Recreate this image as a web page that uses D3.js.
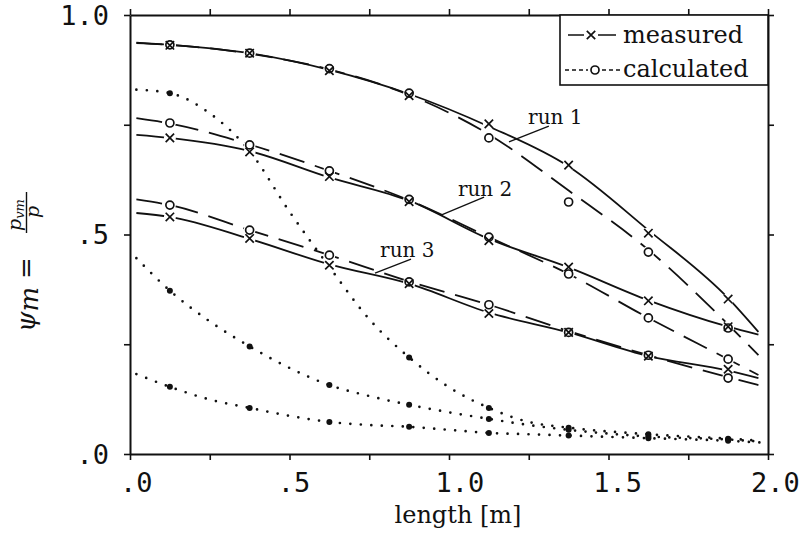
<!DOCTYPE html>
<html>
<head>
<meta charset="utf-8">
<script src="https://cdn.jsdelivr.net/npm/d3@7"></script>
<style>
  body { margin: 0; background: #fff; }
  svg { display: block; }
  .tick-label { font-family: "DejaVu Sans Mono", monospace; font-size: 27px; fill: #111; }
  .serif { font-family: "DejaVu Serif", serif; fill: #111; }
</style>
</head>
<body>
<svg id="chart" width="812" height="540"></svg>
<script>
// positions along the pipe where values were taken
const markerX = [0.125, 0.375, 0.625, 0.875, 1.125, 1.375, 1.625, 1.875];
// x samples for the fitted curves (start .. end of each drawn curve)
const curveX = [0.02, 0.125, 0.375, 0.625, 0.875, 1.125, 1.375, 1.625, 1.875, 1.97];
// x samples for the dotted curves
const dotX = [0.02, 0.125, 0.25, 0.375, 0.5, 0.625, 0.75, 0.875, 1.0, 1.125, 1.25, 1.375, 1.625, 1.875, 1.98];

const run1Meas = [0.931, 0.913, 0.873, 0.816, 0.752, 0.658, 0.503, 0.353];
const run1Calc = [0.932, 0.913, 0.878, 0.822, 0.72, 0.574, 0.46, 0.287];
const run2Meas = [0.72, 0.688, 0.632, 0.575, 0.486, 0.426, 0.349, 0.29];
const run2Calc = [0.754, 0.704, 0.645, 0.58, 0.494, 0.41, 0.31, 0.216];
const run3Meas = [0.54, 0.491, 0.43, 0.388, 0.32, 0.277, 0.223, 0.193];
const run3Calc = [0.567, 0.51, 0.453, 0.392, 0.34, 0.277, 0.225, 0.173];

const run1MeasCurve = [0.937, 0.932, 0.913, 0.875, 0.82, 0.746, 0.655, 0.51, 0.355, 0.278];
const run1CalcCurve = [0.936, 0.932, 0.912, 0.876, 0.818, 0.728, 0.6, 0.465, 0.295, 0.225];
const run2MeasCurve = [0.727, 0.72, 0.69, 0.63, 0.577, 0.49, 0.425, 0.35, 0.29, 0.272];
const run2CalcCurve = [0.765, 0.753, 0.705, 0.645, 0.578, 0.494, 0.41, 0.31, 0.216, 0.18];
const run3MeasCurve = [0.549, 0.54, 0.49, 0.432, 0.388, 0.322, 0.277, 0.223, 0.19, 0.173];
const run3CalcCurve = [0.58, 0.567, 0.51, 0.453, 0.393, 0.34, 0.28, 0.225, 0.175, 0.157];

const dotted1 = [0.83, 0.822, 0.776, 0.69, 0.552, 0.426, 0.307, 0.22, 0.152, 0.105, 0.073, 0.06, 0.045, 0.035, 0.03];
const dotted2 = [0.446, 0.372, 0.302, 0.245, 0.196, 0.157, 0.132, 0.112, 0.095, 0.08, 0.066, 0.055, 0.04, 0.033, 0.028];
const dotted3 = [0.182, 0.153, 0.124, 0.105, 0.087, 0.073, 0.066, 0.062, 0.055, 0.048, 0.045, 0.042, 0.036, 0.03, 0.026];

const xTicks = [0, 0.25, 0.5, 0.75, 1, 1.25, 1.5, 1.75, 2];
const xLabels = [0, 0.5, 1, 1.5, 2];
const yTicks = [0, 0.25, 0.5, 0.75, 1];
const yLabels = [0, 0.5, 1];

// run annotations: text anchor and leader line, in data units
const runNotes = [
  { text: "run 1", at: [1.248, 0.752], from: [1.313, 0.747], to: [1.188, 0.711] },
  { text: "run 2", at: [1.028, 0.588], from: [1.11, 0.585], to: [0.975, 0.544] },
  { text: "run 3", at: [0.784, 0.449], from: [0.881, 0.444], to: [0.768, 0.412] }
];

const svg = d3.select("#chart");
const x = d3.scaleLinear().domain([0, 2]).range([130, 768]);
const y = d3.scaleLinear().domain([0, 1]).range([454, 15]);
const ink = "#111";

const fmt = (d) => d3.format(".1f")(d).replace(/^0/, "");

// frame + outward ticks on all four sides
function frameAxis(axis, transform) {
  const g = svg.append("g").attr("transform", transform)
    .call(axis.tickSizeInner(6).tickSizeOuter(0).tickFormat(""));
  g.select(".domain").attr("stroke", ink).attr("stroke-width", 2);
  g.selectAll(".tick line").attr("stroke", ink).attr("stroke-width", 1.6);
  return g;
}
frameAxis(d3.axisBottom(x).tickValues(xTicks), `translate(0,${y(0)})`);
frameAxis(d3.axisTop(x).tickValues(xTicks), `translate(0,${y(1)})`);
frameAxis(d3.axisLeft(y).tickValues(yTicks), `translate(${x(0)},0)`);
frameAxis(d3.axisRight(y).tickValues(yTicks), `translate(${x(2)},0)`);

svg.append("g").selectAll("text")
  .data(xLabels)
  .join("text")
  .attr("class", "tick-label")
  .attr("x", (d) => x(d) - 10 - 3.5 * d)
  .attr("y", y(0) + 38)
  .text(fmt);

svg.append("g").selectAll("text")
  .data(yLabels)
  .join("text")
  .attr("class", "tick-label")
  .attr("text-anchor", "end")
  .attr("x", x(0) - 21)
  .attr("y", (d) => y(d) + 9.5)
  .text(fmt);

// axis titles
svg.append("text")
  .attr("class", "serif")
  .attr("x", 458)
  .attr("y", 523)
  .attr("text-anchor", "middle")
  .style("font-size", "24px")
  .text("length [m]");

const yt = svg.append("g").attr("transform", "translate(35,262) rotate(-90)");
const ylab = yt.append("text").attr("class", "serif").attr("x", -70).attr("y", 0)
  .style("font-size", "26px");
ylab.append("tspan").style("font-style", "italic").text("ψ");
ylab.append("tspan").style("font-style", "italic").attr("dy", 3).text("m");
ylab.append("tspan").attr("dx", 8).attr("dy", -3).text("=");
const num = yt.append("text").attr("class", "serif").attr("x", 31).attr("y", -14)
  .style("font-size", "19px");
num.append("tspan").style("font-style", "italic").text("p");
num.append("tspan").style("font-style", "italic").style("font-size", "13px").attr("dy", 3).text("vm");
yt.append("line").attr("x1", 29).attr("x2", 70).attr("y1", -8.5).attr("y2", -8.5)
  .attr("stroke", ink).attr("stroke-width", 1.4);
yt.append("text").attr("class", "serif").attr("x", 44).attr("y", 4)
  .style("font-size", "19px").style("font-style", "italic").text("p");

const line = d3.line()
  .x((d) => x(d[0]))
  .y((d) => y(d[1]))
  .curve(d3.curveMonotoneX);

const runs = [
  { meas: run1Meas, calc: run1Calc, measCurve: run1MeasCurve, calcCurve: run1CalcCurve },
  { meas: run2Meas, calc: run2Calc, measCurve: run2MeasCurve, calcCurve: run2CalcCurve },
  { meas: run3Meas, calc: run3Calc, measCurve: run3MeasCurve, calcCurve: run3CalcCurve }
];

const plot = svg.append("g");

// dotted curves with heavier dots at the stations
[dotted1, dotted2, dotted3].forEach((vals) => {
  const pts = dotX.map((d, i) => [d, vals[i]]);
  plot.append("path")
    .attr("d", line(pts))
    .attr("fill", "none")
    .attr("stroke", ink)
    .attr("stroke-width", 2.7)
    .attr("stroke-linecap", "round")
    .attr("stroke-dasharray", "0 10.5");
  plot.append("g").selectAll("circle")
    .data(pts.filter((p) => markerX.includes(p[0])))
    .join("circle")
    .attr("cx", (d) => x(d[0]))
    .attr("cy", (d) => y(d[1]))
    .attr("r", 3)
    .attr("fill", ink);
});

runs.forEach((r) => {
  plot.append("path")
    .attr("d", line(curveX.map((d, i) => [d, r.measCurve[i]])))
    .attr("fill", "none")
    .attr("stroke", ink)
    .attr("stroke-width", 1.8);
  plot.append("path")
    .attr("d", line(curveX.map((d, i) => [d, r.calcCurve[i]])))
    .attr("fill", "none")
    .attr("stroke", ink)
    .attr("stroke-width", 1.8)
    .attr("stroke-dasharray", "26 11");
});

// white halos so lines break at the markers
const allMarks = [];
runs.forEach((r) => {
  markerX.forEach((mx, i) => {
    allMarks.push({ x: mx, y: r.meas[i], kind: "meas" });
    allMarks.push({ x: mx, y: r.calc[i], kind: "calc" });
  });
});

plot.append("g").selectAll("circle")
  .data(allMarks)
  .join("circle")
  .attr("cx", (d) => x(d.x))
  .attr("cy", (d) => y(d.y))
  .attr("r", 6)
  .attr("fill", "#fff");

function drawCross(g, cx, cy, s) {
  g.append("path")
    .attr("d", `M${cx - s},${cy - s}L${cx + s},${cy + s}M${cx - s},${cy + s}L${cx + s},${cy - s}`)
    .attr("stroke", ink)
    .attr("stroke-width", 1.7)
    .attr("fill", "none");
}
function drawRing(g, cx, cy, r) {
  g.append("circle")
    .attr("cx", cx).attr("cy", cy).attr("r", r)
    .attr("fill", "none")
    .attr("stroke", ink)
    .attr("stroke-width", 1.7);
}

const markG = plot.append("g");
allMarks.forEach((d) => {
  if (d.kind === "meas") drawCross(markG, x(d.x), y(d.y), 4.2);
  else drawRing(markG, x(d.x), y(d.y), 4);
});

// run labels
runNotes.forEach((n) => {
  svg.append("text")
    .attr("class", "serif")
    .attr("x", x(n.at[0]))
    .attr("y", y(n.at[1]))
    .style("font-size", "20px")
    .text(n.text);
  svg.append("line")
    .attr("x1", x(n.from[0])).attr("y1", y(n.from[1]))
    .attr("x2", x(n.to[0])).attr("y2", y(n.to[1]))
    .attr("stroke", ink)
    .attr("stroke-width", 1.3);
});

// legend
const lg = svg.append("g");
lg.append("rect")
  .attr("x", 560).attr("y", y(1))
  .attr("width", x(2) - 560).attr("height", 70)
  .attr("fill", "#fff")
  .attr("stroke", ink)
  .attr("stroke-width", 1.6);
lg.append("path").attr("d", "M568,35H584M598,35H616").attr("stroke", ink).attr("stroke-width", 1.6);
drawCross(lg, 591, 35, 4.2);
lg.append("path").attr("d", "M565,70H588M602,70H620").attr("stroke", ink).attr("stroke-width", 1.6)
  .attr("stroke-dasharray", "4 3");
drawRing(lg, 595, 70, 4);
lg.append("text").attr("class", "serif").attr("x", 623).attr("y", 43).style("font-size", "24px").text("measured");
lg.append("text").attr("class", "serif").attr("x", 623).attr("y", 77).style("font-size", "24px").text("calculated");
</script>
</body>
</html>
